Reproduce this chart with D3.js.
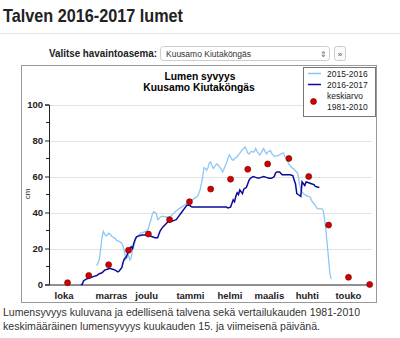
<!DOCTYPE html>
<html><head><meta charset="utf-8">
<script src="https://cdn.jsdelivr.net/npm/d3@7"></script>
<style>
html,body{margin:0;padding:0;background:#fff;}
svg{display:block;font-family:"Liberation Sans",Arial,sans-serif;}
</style></head>
<body>
<svg id="c" width="400" height="338"></svg>
<script>
// ---- data (day = days since 1 Oct 2016; depth in cm) ----
const monthLabels = ["loka","marras","joulu","tammi","helmi","maalis","huhti","touko"];
const monthStartDays = [0,31,61,92,123,151,182,212];
const yTicks = [0,20,40,60,80,100];
const yMinorTicks = [10,30,50,70,90];

const days2016 = [24,25,26,28,30,32,34,36,38,40,42,44,46,48,50,52,53,55,56,57,58,59,60,62,63,64,65,66,68,70,72,74,76,78,80,82,83,84,86,88,90,92,94,96,98,100,102,104,106,108,110,114,120,126,130,134,135,137,138,139,140,141,142,143,144,146,147,149,150,151,152,154,156,158,160,162,164,166,168,170,171,172,174,176,178,182,184,185,186,187,188,190,191,192,193,194,196,198,200,201,203,204];
const depth2016 = [0,0,2,3,3.5,4,4.5,5,6,6.5,8,8.5,9,8.5,8,7,7.5,9.5,12.5,14.5,15,16.5,19,21,20,23,25,26.5,27,27.5,27.5,27.5,27,26.5,26,26,28,30,32,33.5,35,35,35.5,36,38,40,42,44,44,43,43,43,43,43,43,43,42.5,43,45,47,46,49,51,50,52.5,50.5,53,54,56,58,59,60,59.5,59,59.5,60,59.5,59,59,60,62,62.5,62.5,61,61,61,60.5,58,56,50.5,50,49,57,56,55,57,56.5,56,55.5,54.5,54,54];

const days2015 = [36,37,38,39,40,41,42,43,44,45,46,47,48,50,51,53,55,56,57,58,59,60,61,62,63,64,65,66,67,69,71,73,74,75,76,77,78,79,80,81,82,83,84,86,88,90,92,94,96,98,100,102,104,106,108,110,112,113,114,115,116,117,118,119,120,121,122,123,124,125,126,127,128,130,131,132,133,134,135,136,137,138,139,140,141,142,143,144,145,146,147,148,149,150,151,152,153,154,155,156,157,158,159,160,161,162,163,164,165,166,167,168,169,170,171,172,174,175,176,177,178,179,180,181,182,183,184,185,186,187,188,189,190,191,192,193,194,195,196,197,198,199,200,201,202,204,206,207,208,209,210,211,212,213];
const depth2015 = [10.5,12,14,20,26,29.5,28,27,27.5,28.5,28,27,26.5,25.5,24.5,24,23,21,18,14,15,16.5,13.5,15,19,21,24,26.5,27,28.5,29,29.5,30,31,34,36,39,40.5,40,39.5,36,36.5,37.5,38,37.5,37.5,38,39.5,41,42,43,44,45,46,47,48,49,50.5,52.5,56,60,65,64.5,63.5,65,67.5,68,66,64.5,65.5,66.5,67,66,64,62.5,64,66,67.5,70,72,71,69.5,69,70,70.5,71,72,73,74,75,75.5,76.5,75,73,72.5,73.5,74,73.5,74,75.5,74,73,72,73,74.5,75.5,74,72.5,73.5,74,74.5,73,72,71,71.5,71.5,72,72.5,73,73,71,70.5,68.5,67,66,65,64.5,64,63,62.5,61,56,53,51.5,50.5,50,49.5,49,49,48.5,47,45.5,45,44,42.5,42,42,41,36,30,22,14,6,3];

const avgDays = [14,30,45,60,75,91,106,122,137,150,165,181,196,211,226,242];
const avgDepth = [1,5,11,19,28,36,46,53,58.5,64,67,70,60,33,4,0];

const legendLabels = ["2015-2016","2016-2017","keskiarvo","1981-2010"];
const colorPrev = "#8ec6f5", colorCur = "#0b0b98", colorAvg = "#d40000";

// ---- drawing ----
const svg = d3.select("#c");
const x = d3.scaleLinear().domain([0,243]).range([49,371]);
const y = d3.scaleLinear().domain([0,100]).range([284.5,104.5]);

// page header
svg.append("text").attr("x",3).attr("y",22).attr("font-size",18.5).attr("font-weight","bold")
  .attr("fill","#222").attr("textLength",180).attr("lengthAdjust","spacingAndGlyphs")
  .text("Talven 2016-2017 lumet");
svg.append("line").attr("x1",0).attr("x2",400).attr("y1",33.5).attr("y2",33.5).attr("stroke","#e6e6e6");

svg.append("text").attr("x",157).attr("y",57).attr("text-anchor","end").attr("font-size",10)
  .attr("font-weight","bold").attr("fill","#222").attr("textLength",108).attr("lengthAdjust","spacingAndGlyphs")
  .text("Valitse havaintoasema:");
svg.append("rect").attr("x",160.5).attr("y",46.5).attr("width",169).attr("height",14).attr("rx",3)
  .attr("fill","#fff").attr("stroke","#ccc");
svg.append("text").attr("x",166).attr("y",57).attr("font-size",8.5).attr("fill","#333").text("Kuusamo Kiutaköngäs");
svg.append("text").attr("x",323).attr("y",57).attr("text-anchor","middle").attr("font-size",8).attr("fill","#666").text("⇕");
svg.append("rect").attr("x",334.5).attr("y",46.5).attr("width",11).attr("height",14).attr("rx",2)
  .attr("fill","#fafafa").attr("stroke","#ccc");
svg.append("text").attr("x",340).attr("y",56.5).attr("text-anchor","middle").attr("font-size",8).attr("fill","#444").text("»");

// chart frame
svg.append("rect").attr("x",21.5).attr("y",65.5).attr("width",355).attr("height",237)
  .attr("fill","#fff").attr("stroke","#999");

// title
svg.append("text").attr("x",200).attr("y",79.5).attr("text-anchor","middle").attr("font-size",10.3)
  .attr("font-weight","bold").attr("fill","#000").text("Lumen syvyys");
svg.append("text").attr("x",199).attr("y",91).attr("text-anchor","middle").attr("font-size",10.3)
  .attr("font-weight","bold").attr("fill","#000").text("Kuusamo Kiutaköngäs");

// gridlines
svg.append("g").selectAll("line").data(yTicks.filter(d=>d>0)).join("line")
  .attr("x1",x(0)).attr("x2",372).attr("y1",d=>Math.round(y(d))+0.5).attr("y2",d=>Math.round(y(d))+0.5)
  .attr("stroke","#e2e2e2");

// y axis
const yAxis = svg.append("g").attr("transform",`translate(${x(0)},0)`)
  .call(d3.axisLeft(y).tickValues(yTicks).tickSize(4).tickPadding(2).tickFormat(d3.format("d")));
yAxis.select(".domain").attr("stroke","#222");
yAxis.selectAll(".tick line").attr("stroke","#222");
yAxis.selectAll("text").attr("font-size",9.5).attr("font-weight","bold").attr("fill","#222")
  .attr("font-family","Liberation Sans,Arial,sans-serif");
svg.append("g").selectAll("line").data(yMinorTicks).join("line")
  .attr("x1",x(0)-3).attr("x2",x(0)).attr("y1",d=>y(d)).attr("y2",d=>y(d)).attr("stroke","#222");

svg.append("text").attr("transform","translate(30,194) rotate(-90)").attr("text-anchor","middle")
  .attr("font-size",8).attr("fill","#222").text("cm");

// x axis
const xAxis = svg.append("g").attr("transform",`translate(0,${y(0)})`)
  .call(d3.axisBottom(x).tickValues(monthStartDays).tickSize(0).tickPadding(8)
    .tickFormat((d,i)=>monthLabels[i]));
xAxis.select(".domain").attr("stroke","#222").attr("d",`M${x(0)},0.5H372`);
xAxis.selectAll("text").attr("text-anchor","start").attr("dx",5).attr("font-size",9.5)
  .attr("font-weight","bold").attr("fill","#222").attr("font-family","Liberation Sans,Arial,sans-serif");

// series
const line = d3.line().x(d=>x(d[0])).y(d=>y(d[1]));
svg.append("path").datum(d3.zip(days2015,depth2015)).attr("d",line)
  .attr("fill","none").attr("stroke",colorPrev).attr("stroke-width",1.3);
svg.append("path").datum(d3.zip(days2016,depth2016)).attr("d",line)
  .attr("fill","none").attr("stroke",colorCur).attr("stroke-width",1.5);
svg.append("g").selectAll("circle").data(d3.zip(avgDays,avgDepth)).join("circle")
  .attr("cx",d=>x(d[0])).attr("cy",d=>y(d[1])).attr("r",3)
  .attr("fill",colorAvg).attr("stroke","#600").attr("stroke-width",0.6);

// legend
const lg = svg.append("g");
lg.append("rect").attr("x",303.5).attr("y",67.5).attr("width",72).attr("height",49)
  .attr("fill","#fff").attr("stroke","#777");
lg.append("line").attr("x1",308).attr("x2",321).attr("y1",73.5).attr("y2",73.5).attr("stroke",colorPrev).attr("stroke-width",1.5);
lg.append("line").attr("x1",308).attr("x2",321).attr("y1",84.5).attr("y2",84.5).attr("stroke",colorCur).attr("stroke-width",1.5);
lg.append("circle").attr("cx",313.5).attr("cy",101.5).attr("r",3).attr("fill",colorAvg).attr("stroke","#600").attr("stroke-width",0.6);
const ly = [76.5,87.5,99,109.5];
lg.selectAll("text.l").data(legendLabels).join("text").attr("class","l")
  .attr("x",327).attr("y",(d,i)=>ly[i]).attr("font-size",8.5).attr("fill","#222").text(d=>d);

// footer
svg.append("text").attr("x",3).attr("y",316).attr("font-size",11.5).attr("fill","#333")
  .attr("textLength",357).attr("lengthAdjust","spacingAndGlyphs")
  .text("Lumensyvyys kuluvana ja edellisenä talvena sekä vertailukauden 1981-2010");
svg.append("text").attr("x",3).attr("y",330).attr("font-size",11.5).attr("fill","#333")
  .attr("textLength",317).attr("lengthAdjust","spacingAndGlyphs")
  .text("keskimääräinen lumensyvyys kuukauden 15. ja viimeisenä päivänä.");
</script>
</body></html>
